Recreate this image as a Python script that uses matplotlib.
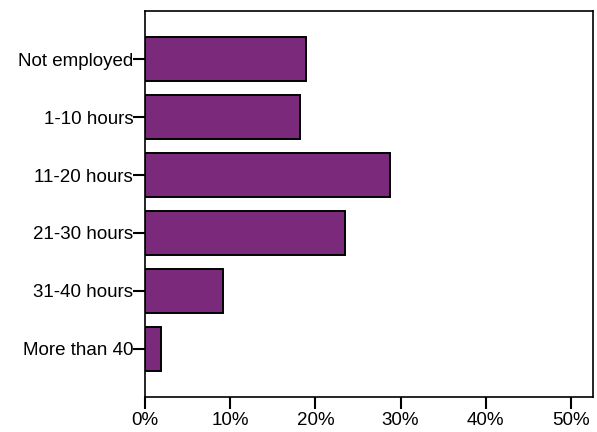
import matplotlib
matplotlib.use('Agg')
import matplotlib.pyplot as plt
from matplotlib.ticker import FuncFormatter

# hours worked per week, share of respondents (%)
categories = ['Not employed', '1-10 hours', '11-20 hours', '21-30 hours', '31-40 hours', 'More than 40']
percent = [18.9, 18.2, 28.8, 23.5, 9.15, 1.9]
xticks = [0, 10, 20, 30, 40, 50]

plt.rcParams['font.family'] = ['Liberation Sans', 'DejaVu Sans']

fig = plt.figure(figsize=(5.97, 4.32), dpi=100)
ax = fig.add_axes([0.2429, 0.081, 0.7504, 0.8935])

ypos = list(range(len(categories)))
ax.barh(ypos, percent, height=0.75, color='#7B2A7B', edgecolor='black', linewidth=1.4)

ax.set_ylim(5.83, -0.83)
ax.set_xlim(0, 52.6)
ax.set_yticks(ypos)
ax.set_yticklabels(categories, fontsize=13.5)
ax.set_xticks(xticks)
ax.xaxis.set_major_formatter(FuncFormatter(lambda v, p: '%d%%' % v))
ax.tick_params(axis='x', labelsize=13.5, length=8.5, width=1.5, direction='out', pad=2)
ax.tick_params(axis='y', length=8.5, width=1.5, direction='out', pad=0)

for s in ax.spines.values():
    s.set_linewidth(1.2)

fig.savefig('out.png', dpi=100)
